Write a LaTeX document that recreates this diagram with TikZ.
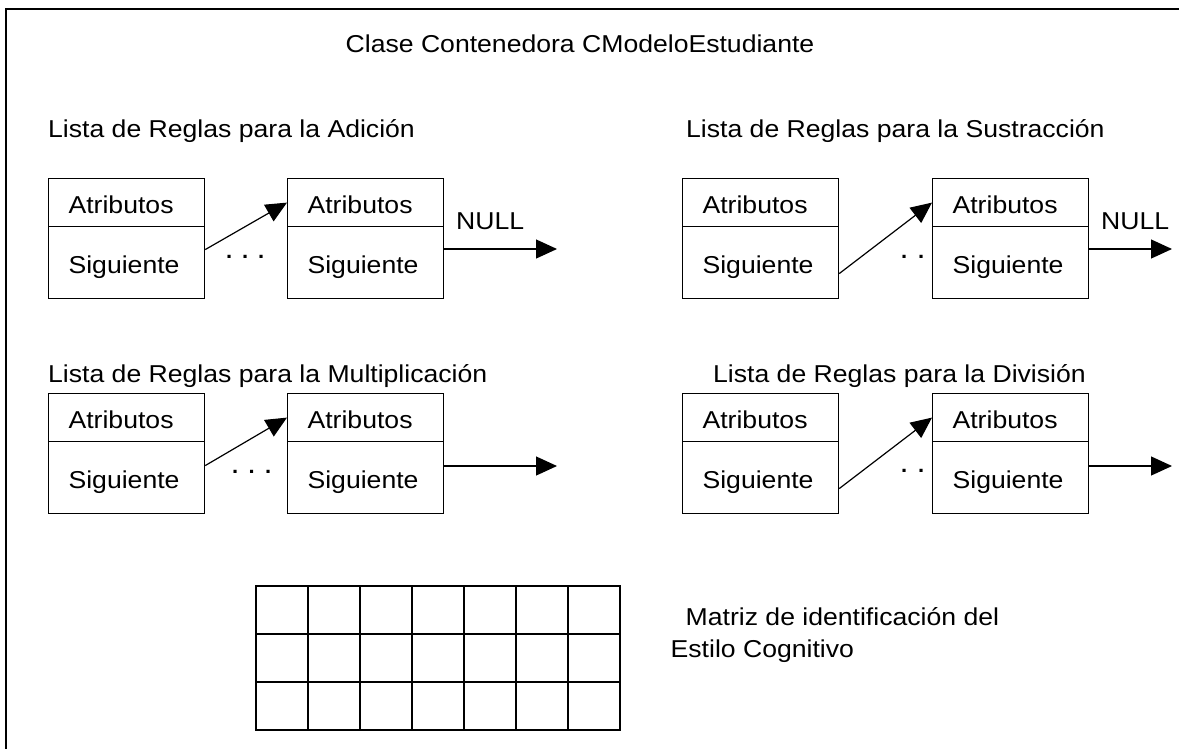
\documentclass[tikz,border=0pt]{standalone}
\usepackage{fontspec}
\setmainfont[FakeStretch=1.09]{Liberation Sans}
\usetikzlibrary{arrows.meta,calc}
\begin{document}
\begin{tikzpicture}[x=1pt,y=-1pt,
  every node/.style={font=\fontsize{24.4}{28}\selectfont},
  cellbox/.style={draw, fill=white, line width=1.2pt, text width=116pt, inner xsep=20pt, inner ysep=0pt,
                  align=left, text height=21pt, text depth=0pt, anchor=north west},
  toppart/.style={cellbox, minimum height=48pt},
  botpart/.style={cellbox, minimum height=72pt},
  lbl/.style={inner sep=0pt, anchor=base west},
  dotlbl/.style={lbl, font=\fontsize{30}{32}\selectfont},
  link/.style={line width=1.2pt, -{Triangle[length=21pt,width=19pt]}},
  gridline/.style={line width=1.6pt},
]
\useasboundingbox (0,0) rectangle (1179,748);
\clip (0,0) rectangle (1179,748);
% outer frame (extends past right and bottom edges)
\draw[line width=2pt] (6,9) rectangle (1200,770);

% title
\node[inner sep=0pt, anchor=base] (title) at (580,52) {Clase Contenedora CModeloEstudiante};

% list labels
\node[lbl] (ladd) at (48,137) {Lista de Reglas para la Adición};
\node[lbl] (lsub) at (686,137) {Lista de Reglas para la Sustracción};
\node[lbl] (lmul) at (48,382) {Lista de Reglas para la Multiplicación};
\node[lbl] (ldiv) at (713,382) {Lista de Reglas para la División};

% ellipsis dots (drawn before boxes so that boxes may cover them)
\node[dotlbl] (dots1) at (224.5,258.7) {.\hspace{6.9pt}.\hspace{6.9pt}.};
\node[dotlbl] (dots2) at (899.5,258.7) {.\hspace{7.9pt}.\hspace{7.9pt}.};
\node[dotlbl] (dots3) at (230.5,473.7) {.\hspace{7.4pt}.\hspace{7.4pt}.};
\node[dotlbl] (dots4) at (899.5,472.7) {.\hspace{7.9pt}.\hspace{7.9pt}.};

% Adicion
\node[toppart] (a1t) at (48,178) {Atributos};
\node[botpart] (a1b) at (48,226) {Siguiente};
\node[toppart] (a2t) at (287,178) {Atributos};
\node[botpart] (a2b) at (287,226) {Siguiente};
% Sustraccion
\node[toppart] (s1t) at (682,178) {Atributos};
\node[botpart] (s1b) at (682,226) {Siguiente};
\node[toppart] (s2t) at (932,178) {Atributos};
\node[botpart] (s2b) at (932,226) {Siguiente};
% Multiplicacion
\node[toppart] (m1t) at (48,393) {Atributos};
\node[botpart] (m1b) at (48,441) {Siguiente};
\node[toppart] (m2t) at (287,393) {Atributos};
\node[botpart] (m2b) at (287,441) {Siguiente};
% Division
\node[toppart] (d1t) at (682,393) {Atributos};
\node[botpart] (d1b) at (682,441) {Siguiente};
\node[toppart] (d2t) at (932,393) {Atributos};
\node[botpart] (d2b) at (932,441) {Siguiente};

% links between nodes
\draw[link] ($(a1b.east)+(0,-13)$) -- (a2t.west);
\draw[link] ($(s1b.east)+(0,11)$) -- (s2t.west);
\draw[link] ($(m1b.east)+(0,-12)$) -- (m2t.west);
\draw[link] ($(d1b.east)+(0,11)$) -- (d2t.west);

% NULL pointers
\coordinate (anull) at (557,249);
\coordinate (snull) at (1172,249);
\coordinate (mnull) at (557,466);
\coordinate (dnull) at (1172,466);
\draw[link] (a2b.east |- anull) -- (anull);
\draw[link] (s2b.east |- snull) -- (snull);
\draw[link] (m2b.east |- mnull) -- (mnull);
\draw[link] (d2b.east |- dnull) -- (dnull);
\node[lbl] (nulla) at (456,229) {NULL};
\node[lbl] (nulls) at (1101,229) {NULL};

% matrix
\draw[gridline] (256,586) rectangle (620,730);
\foreach \i in {1,...,6} \draw[gridline] (256+52*\i,586) -- (256+52*\i,730);
\foreach \j in {1,2} \draw[gridline] (256,586+48*\j) -- (620,586+48*\j);
\node[lbl] (mat1) at (685.5,625) {Matriz de identificación del};
\node[lbl] (mat2) at (670.5,657) {Estilo Cognitivo};
\end{tikzpicture}
\end{document}
